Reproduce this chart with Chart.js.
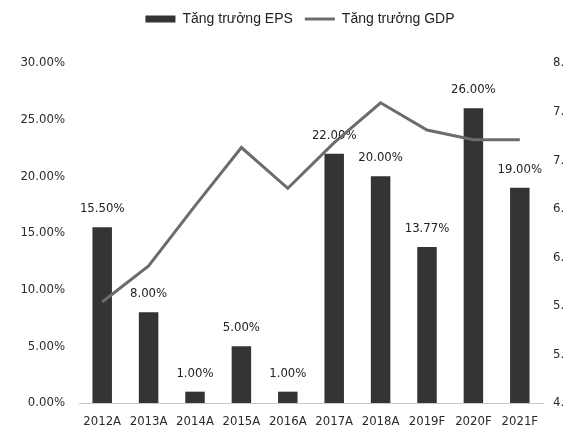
<!DOCTYPE html>
<html>
<head>
<meta charset="utf-8">
<script src="https://cdn.jsdelivr.net/npm/chart.js@4.4.0/dist/chart.umd.min.js"></script>
<style>
  html, body { margin: 0; padding: 0; background: #fff; overflow: hidden; }
  #wrap { width: 563px; height: 438px; overflow: hidden; }
</style>
</head>
<body>
<div id="wrap"><canvas id="chartEps" width="600" height="438"></canvas></div>
<script>
// So lieu doc tu hinh
const years = ["2012A", "2013A", "2014A", "2015A", "2016A", "2017A", "2018A", "2019F", "2020F", "2021F"];
const epsGrowth = [15.5, 8.0, 1.0, 5.0, 1.0, 22.0, 20.0, 13.77, 26.0, 19.0];
const gdpGrowth = [5.54, 5.91, 6.53, 7.13, 6.71, 7.18, 7.59, 7.31, 7.21, 7.21];
const leftTicks = [0, 5, 10, 15, 20, 25, 30];
const rightTicks = [4.5, 5.0, 5.5, 6.0, 6.5, 7.0, 7.5, 8.0];

const narrow = "'DejaVu Sans Condensed', 'Liberation Sans', sans-serif";

// nhan gia tri tren cot EPS
const barLabels = {
  id: "barLabels",
  afterDatasetDraw(chart, args) {
    if (args.index !== 0) return;
    const { ctx } = chart;
    ctx.save();
    ctx.font = "13px " + narrow;
    ctx.fillStyle = "#222";
    ctx.textAlign = "center";
    ctx.textBaseline = "bottom";
    args.meta.data.forEach((bar, i) => {
      ctx.fillText(epsGrowth[i].toFixed(2) + "%", bar.x, bar.y - 12);
    });
    ctx.restore();
  },
};

// khoang cach giua chu thich va vung ve
const legendGap = {
  id: "legendGap",
  afterInit(chart) {
    const fit = chart.legend.fit;
    chart.legend.fit = function () {
      fit.call(this);
      this.height = 63;
    };
  },
};

const chartEps = new Chart(document.getElementById("chartEps"), {
  type: "bar",
  data: {
    labels: years,
    datasets: [
      {
        label: "Tăng trưởng EPS",
        data: epsGrowth,
        yAxisID: "y",
        backgroundColor: "#343434",
        borderWidth: 0,
        barPercentage: 0.42,
        categoryPercentage: 1,
        pointStyle: "rect",
        order: 1,
      },
      {
        type: "line",
        label: "Tăng trưởng GDP",
        data: gdpGrowth,
        yAxisID: "y1",
        borderColor: "#6c6c6c",
        backgroundColor: "#6c6c6c",
        borderWidth: 3,
        pointRadius: 0,
        pointStyle: "line",
        tension: 0,
        order: 0,
      },
    ],
  },
  options: {
    responsive: false,
    animation: false,
    layout: { padding: 0 },
    plugins: {
      legend: {
        position: "top",
        labels: {
          usePointStyle: true,
          pointStyleWidth: 30,
          boxHeight: 7,
          padding: 12,
          color: "#222",
          font: { family: "'Liberation Sans', Arial, sans-serif", size: 14 },
          sort: (a, b) => a.datasetIndex - b.datasetIndex,
        },
      },
      tooltip: { enabled: false },
    },
    scales: {
      x: {
        grid: { display: false, drawTicks: false },
        border: { display: true, color: "#c8c8c8", width: 1 },
        ticks: {
          color: "#2a2a2a",
          padding: 11,
          maxRotation: 0,
          autoSkip: false,
          font: { family: narrow, size: 13 },
        },
        afterFit: (scale) => { scale.height = 35; },
      },
      y: {
        position: "left",
        min: 0,
        max: 30,
        afterBuildTicks: (scale) => { scale.ticks = leftTicks.map((v) => ({ value: v })); },
        grid: { display: false, drawTicks: false },
        border: { display: false },
        ticks: {
          color: "#2a2a2a",
          padding: 14,
          font: { family: narrow, size: 13 },
          callback: (v) => v.toFixed(2) + "%",
        },
        afterFit: (scale) => { scale.width = 79; },
      },
      y1: {
        position: "right",
        min: 4.5,
        max: 8,
        afterBuildTicks: (scale) => { scale.ticks = rightTicks.map((v) => ({ value: v })); },
        grid: { display: false, drawTicks: false },
        border: { display: false },
        ticks: {
          color: "#2a2a2a",
          padding: 10,
          font: { family: narrow, size: 13 },
          callback: (v) => v.toFixed(2) + "%",
        },
        afterFit: (scale) => { scale.width = 57; },
      },
    },
  },
  plugins: [barLabels, legendGap],
});
</script>
</body>
</html>
